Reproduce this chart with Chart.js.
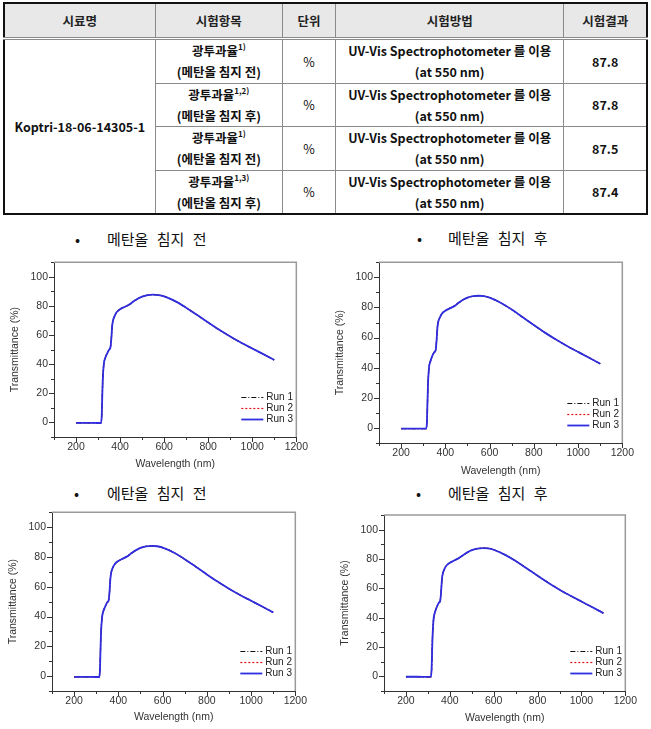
<!DOCTYPE html>
<html><head><meta charset="utf-8">
<script src="https://cdn.jsdelivr.net/npm/chart.js@4/dist/chart.umd.min.js"></script>
<style>
html,body{margin:0;padding:0;background:#fff}
body{width:651px;height:729px;position:relative;overflow:hidden;font-family:"Noto Sans CJK KR","Noto Sans",sans-serif}
#tbl{position:absolute;left:3px;top:2px;width:645px;border-collapse:collapse;table-layout:fixed;border:2px solid #111}
#tbl th,#tbl td{border:1px solid #8a8a8a;text-align:center;vertical-align:middle;padding:0;font-size:12.5px;font-weight:bold;line-height:21px;color:#111}
#tbl th{background:#e8e8e8;color:#222;border-bottom:3px double #8a8a8a}
#tbl sup{font-size:8px;line-height:0;vertical-align:6px}
.ttl{position:absolute;font-size:15px;line-height:20px;color:#111;white-space:nowrap;word-spacing:5px}
.bul{position:absolute;font-size:15px;line-height:20px;color:#111}
canvas{position:absolute}
</style></head>
<body>
<table id="tbl"></table>
<div class="bul" style="left:75px;top:229px">•</div><div class="ttl" style="left:107px;top:229px" id="t0"></div>
<div class="bul" style="left:417px;top:228px">•</div><div class="ttl" style="left:448px;top:228px" id="t1"></div>
<div class="bul" style="left:74px;top:483px">•</div><div class="ttl" style="left:107px;top:483px" id="t2"></div>
<div class="bul" style="left:416px;top:483px">•</div><div class="ttl" style="left:448px;top:483px" id="t3"></div>
<canvas id="c0" width="312" height="225" style="left:0;top:250px"></canvas>
<canvas id="c1" width="313" height="231" style="left:325px;top:250px"></canvas>
<canvas id="c2" width="311" height="229" style="left:0;top:500px"></canvas>
<canvas id="c3" width="316" height="229" style="left:325px;top:500px"></canvas>
<script>
// ---- table data ----
const tableHeaders = ['시료명','시험항목','단위','시험방법','시험결과'];
const sampleName = 'Koptri-18-06-14305-1';
const testItems = ['(메탄올 침지 전)','(메탄올 침지 후)','(에탄올 침지 전)','(에탄올 침지 후)'];
const testNotes = ['1)','1,2)','1)','1,3)'];
const unitLabel = '%';
const methodText = 'UV-Vis Spectrophotometer 를 이용';
const methodSub = '(at 550 nm)';
const results = ['87.8','87.8','87.5','87.4'];

// ---- chart data ----
const panelTitles = ['메탄올 침지 전','메탄올 침지 후','에탄올 침지 전','에탄올 침지 후'];
const runLabels = ['Run 1','Run 2','Run 3'];
const wavelength = [200,250,300,314,317,321,326,332,340,350,356,360,364,368,375,385,400,420,440,460,480,500,525,550,575,600,650,700,750,800,850,900,950,1000,1050,1100];
const meohBefore = [-0.3,-0.3,-0.4,-0.4,6,28,40,44,47,50,51.5,57,66,70,73,75.8,77.8,79.3,80.8,83,85,86.4,87.4,87.8,87.5,86.6,83.3,78.8,73.8,68.6,63.6,59.0,54.7,50.8,46.9,42.9];
const meohAfter  = [-0.4,-0.4,-0.4,-0.4,5,27,40,44,47.5,50.3,51.6,57.5,66.5,70.5,73.3,76,77.9,79.4,80.9,83.1,85.1,86.5,87.5,87.8,87.5,86.5,83.1,78.6,73.5,68.3,63.3,58.7,54.4,50.5,46.6,42.6];
const etohBefore = [-0.5,-0.5,-0.6,-0.6,5,27,39,43.5,46.5,49.6,50.8,56.5,65.5,69.8,72.8,75.4,77.3,78.9,80.4,82.6,84.6,86.1,87.1,87.5,87.2,86.3,83.0,78.5,73.5,68.3,63.3,58.7,54.5,50.6,46.7,42.8];
const etohAfter  = [-0.3,-0.3,-0.4,-0.4,5,26,39,43.5,47,50.2,51.4,57,66,70,73,75.6,77.4,79.0,80.5,82.6,84.5,86.0,87.0,87.4,87.2,86.3,83.0,78.7,73.7,68.6,63.7,59.1,54.9,51.0,47.1,43.1];
const panelValues = [meohBefore, meohAfter, etohBefore, etohAfter];
const xTickValues = [100,200,300,400,500,600,700,800,900,1000,1100,1200];
const yTickValues = [-10,0,10,20,30,40,50,60,70,80,90,100,110];

// ---- build table ----
(function(){
  const t = document.getElementById('tbl');
  const widths = [151,127,53,228,83];
  let h = '<colgroup>' + widths.map(w=>'<col style="width:'+w+'px">').join('') + '</colgroup>';
  h += '<tr style="height:35px">' + tableHeaders.map(s=>'<th>'+s+'</th>').join('') + '</tr>';
  const rh = [45,43,44,44];
  testItems.forEach((it,i)=>{
    h += '<tr style="height:'+rh[i]+'px">';
    if(i===0) h += '<td rowspan="4">'+sampleName+'</td>';
    h += '<td>광투과율<sup>'+testNotes[i]+'</sup><br>'+it+'</td>';
    h += '<td style="font-weight:normal">'+unitLabel+'</td>';
    h += '<td>'+methodText+'<br>'+methodSub+'</td>';
    h += '<td>'+results[i]+'</td></tr>';
  });
  t.innerHTML = h;
  panelTitles.forEach((s,i)=>document.getElementById('t'+i).textContent = s);
})();

// ---- plugins ----
const framePlugin = {
  id:'frame',
  beforeDatasetsDraw(chart){
    const {ctx, chartArea:a} = chart;
    ctx.save(); ctx.strokeStyle='#9a9a9a'; ctx.lineWidth=1.5;
    ctx.beginPath(); ctx.moveTo(a.left, a.top); ctx.lineTo(a.right, a.top); ctx.lineTo(a.right, a.bottom); ctx.stroke();
    ctx.restore();
  },
  afterDraw(chart){
    const ctx = chart.ctx, xs = chart.scales.x, ys = chart.scales.y;
    ctx.save(); ctx.strokeStyle='#333'; ctx.lineWidth=1;
    xs.ticks.forEach(t=>{
      const p = Math.round(xs.getPixelForValue(t.value))+0.5;
      const len = (t.value % 200 === 0) ? 5 : 3;
      ctx.beginPath(); ctx.moveTo(p, xs.top); ctx.lineTo(p, xs.top+len); ctx.stroke();
    });
    ys.ticks.forEach(t=>{
      const p = Math.round(ys.getPixelForValue(t.value))+0.5;
      const len = (t.value % 20 === 0) ? 5 : 3;
      ctx.beginPath(); ctx.moveTo(ys.right, p); ctx.lineTo(ys.right-len, p); ctx.stroke();
    });
    ctx.restore();
  }
};
const legendPlugin = {
  id:'inlegend',
  afterDatasetsDraw(chart){
    const {ctx, chartArea:a} = chart;
    ctx.save();
    ctx.font = '10px "Liberation Sans", Arial, sans-serif';
    ctx.textBaseline = 'middle'; ctx.fillStyle = '#222';
    chart.data.datasets.forEach((d,i)=>{
      const y = Math.round(a.bottom - 40 + i*11) + 0.5;
      ctx.strokeStyle = d.borderColor; ctx.lineWidth = d.borderWidth;
      ctx.setLineDash(d.borderDash || []);
      ctx.beginPath(); ctx.moveTo(a.right-55, y); ctx.lineTo(a.right-33, y); ctx.stroke();
      ctx.setLineDash([]);
      ctx.fillText(d.label, a.right-30, y);
    });
    ctx.restore();
  }
};

const layoutCfg = [
  {top:8, yW:54, xH:38, xTitlePad:4.7, yTitlePad:9},
  {top:12, yW:54, xH:38, xTitlePad:3.7, yTitlePad:9},
  {top:11, yW:52, xH:38, xTitlePad:5.7, yTitlePad:7},
  {top:15, yW:59, xH:38, xTitlePad:4.7, yTitlePad:14}
];
const runStyles = [
  {borderColor:'#111', borderDash:[5,2,1,2], borderWidth:1.2, order:3},
  {borderColor:'#e01010', borderDash:[2,2], borderWidth:1.2, order:2},
  {borderColor:'#2e2ee0', borderWidth:1.8, order:1}
];
const font = 'Liberation Sans';

panelValues.forEach((vals, k)=>{
  const L = layoutCfg[k];
  const pts = wavelength.map((w,i)=>({x:w, y:vals[i]}));
  new Chart(document.getElementById('c'+k), {
    type:'line',
    data:{datasets: runLabels.map((lab,r)=>Object.assign({label:lab, data:pts, pointRadius:0, fill:false, cubicInterpolationMode:'monotone'}, runStyles[r]))},
    options:{
      responsive:false, animation:false, devicePixelRatio:1,
      layout:{padding:{left:0, top:L.top, right:14, bottom:0}},
      plugins:{legend:{display:false}, tooltip:{enabled:false}},
      scales:{
        x:{type:'linear', min:100, max:1200,
           afterBuildTicks(s){ s.ticks = xTickValues.map(v=>({value:v})); },
           afterFit(s){ s.height = L.xH; },
           grid:{display:false, drawTicks:false}, border:{display:true, color:'#333', width:1},
           ticks:{autoSkip:false, maxRotation:0, padding:4, color:'#333', font:{family:font, size:10.5},
                  callback:v=> (v % 200 === 0) ? String(v) : ''},
           title:{display:true, text:'Wavelength (nm)', color:'#333', font:{family:font, size:10.5}, padding:{top:0, bottom:L.xTitlePad}}
        },
        y:{type:'linear', min:-10, max:110,
           afterBuildTicks(s){ s.ticks = yTickValues.map(v=>({value:v})); },
           afterFit(s){ s.width = L.yW; },
           grid:{display:false, drawTicks:false}, border:{display:true, color:'#333', width:1},
           ticks:{autoSkip:false, padding:6, color:'#333', font:{family:font, size:10.5},
                  callback:v=> (v % 20 === 0 && v >= 0 && v <= 100) ? String(v) : ''},
           title:{display:true, text:'Transmittance (%)', color:'#333', font:{family:font, size:10.5}, padding:{top:L.yTitlePad, bottom:0}}
        }
      }
    },
    plugins:[framePlugin, legendPlugin]
  });
});
</script>
</body></html>
